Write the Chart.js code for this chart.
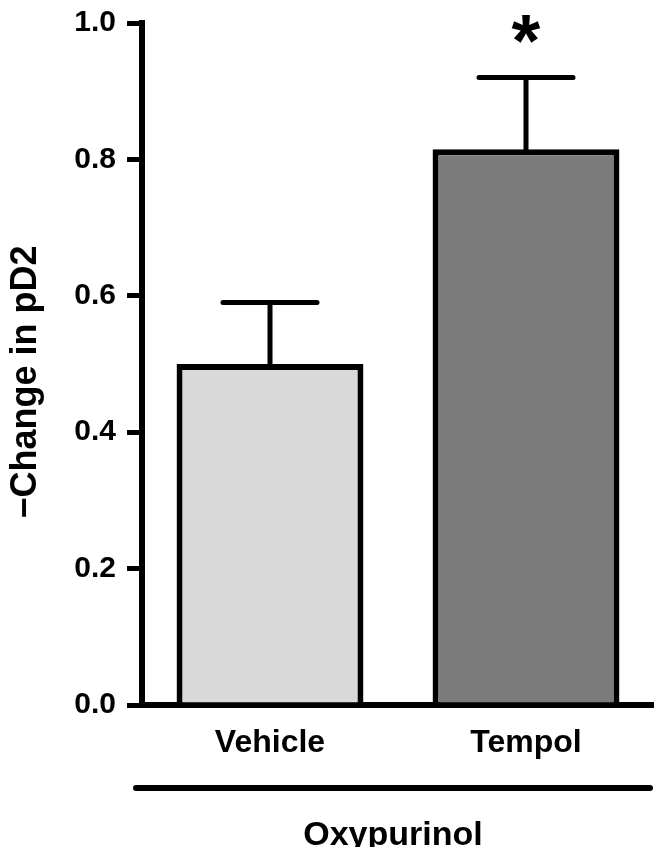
<!DOCTYPE html>
<html>
<head>
<meta charset="utf-8">
<script src="https://cdn.jsdelivr.net/npm/chart.js@4.4.1/dist/chart.umd.min.js"></script>
<style>
  html, body { margin: 0; padding: 0; background: #fff; }
  canvas { display: block; }
</style>
</head>
<body>
<canvas id="barChart" width="654" height="847"></canvas>
<script>
// data
const categories = ['Vehicle', 'Tempol'];
const means = [0.50, 0.815];
const errTops = [0.59, 0.92];   // mean + SEM
const barColors = ['#d9d9d9', '#7b7b7b'];
const yTicks = [0.0, 0.2, 0.4, 0.6, 0.8, 1.0];
const groupLabel = 'Oxypurinol';
const yTitle = '\u2212Change in pD2';
const sigMark = ['', '*'];

const FONT = '"Liberation Sans", Arial, Helvetica, sans-serif';

// error bars, asterisk, y title, group line
const extras = {
    id: 'extras',
    afterDatasetsDraw(chart) {
        const ctx = chart.ctx;
        const x = chart.scales.x, y = chart.scales.y;
        ctx.save();
        ctx.strokeStyle = '#000';
        ctx.fillStyle = '#000';
        ctx.lineWidth = 5;
        ctx.lineCap = 'round';
        for (let i = 0; i < categories.length; i++) {
            const cx = x.getPixelForValue(i);
            const yTop = y.getPixelForValue(errTops[i]);
            const yBar = y.getPixelForValue(means[i]);
            ctx.beginPath();
            ctx.moveTo(cx, yBar);
            ctx.lineTo(cx, yTop);
            ctx.moveTo(cx - 47, yTop);
            ctx.lineTo(cx + 47, yTop);
            ctx.stroke();
            if (sigMark[i]) {
                ctx.font = 'bold 74px ' + FONT;
                const m = ctx.measureText(sigMark[i]);
                const w = m.actualBoundingBoxRight + m.actualBoundingBoxLeft;
                const h = m.actualBoundingBoxAscent + m.actualBoundingBoxDescent;
                const bx = cx - w / 2 + m.actualBoundingBoxLeft;
                const by = 29 - h / 2 + m.actualBoundingBoxAscent;
                ctx.textAlign = 'left';
                ctx.textBaseline = 'alphabetic';
                ctx.fillText(sigMark[i], bx, by);
            }
        }

        // y title
        ctx.save();
        ctx.translate(26, 382);
        ctx.rotate(-Math.PI / 2);
        ctx.font = 'bold 36px ' + FONT;
        ctx.textAlign = 'center';
        ctx.textBaseline = 'middle';
        ctx.fillText(yTitle, 0, 0);
        ctx.restore();

        // group line + label
        ctx.lineWidth = 6;
        ctx.beginPath();
        ctx.moveTo(136, 788);
        ctx.lineTo(650, 788);
        ctx.stroke();
        ctx.font = 'bold 34px ' + FONT;
        ctx.textAlign = 'center';
        ctx.textBaseline = 'alphabetic';
        ctx.fillText(groupLabel, 393, 845);
        ctx.restore();
    }
};

const barCtx = document.querySelector('#barChart').getContext('2d');
const barChart = new Chart(barCtx, {
    type: 'bar',
    data: {
        labels: categories,
        datasets: [{
            data: means,
            backgroundColor: barColors,
            borderColor: '#000',
            borderWidth: 6,
            borderSkipped: 'start',
            barPercentage: 0.73,
            categoryPercentage: 1.0
        }]
    },
    options: {
        responsive: false,
        animation: false,
        events: [],
        layout: { padding: { top: 23, right: 0, left: 0, bottom: 0 } },
        plugins: {
            legend: { display: false },
            tooltip: { enabled: false },
            title: { display: false }
        },
        scales: {
            y: {
                min: 0,
                max: 1,
                afterFit(scale) {
                    scale.width = 142;
                    scale.paddingTop = 0;
                    scale.paddingBottom = 0;
                },
                afterBuildTicks(scale) {
                    scale.ticks = yTicks.map(v => ({ value: v }));
                },
                border: { display: true, color: '#000', width: 6 },
                grid: {
                    display: true,
                    drawOnChartArea: false,
                    drawTicks: true,
                    tickLength: 15,
                    lineWidth: 5,
                    color: '#000'
                },
                ticks: {
                    padding: 11,
                    color: '#000',
                    font: { family: FONT, size: 30, weight: 'bold' },
                    callback: v => Number(v).toFixed(1)
                }
            },
            x: {
                afterFit(scale) {
                    scale.height = 142;
                    scale.paddingLeft = 0;
                    scale.paddingRight = 0;
                },
                border: { display: true, color: '#000', width: 6 },
                grid: { display: false, drawTicks: false },
                ticks: {
                    padding: 19,
                    color: '#000',
                    font: { family: FONT, size: 32, weight: 'bold' }
                }
            }
        }
    },
    plugins: [extras]
});
</script>
</body>
</html>
